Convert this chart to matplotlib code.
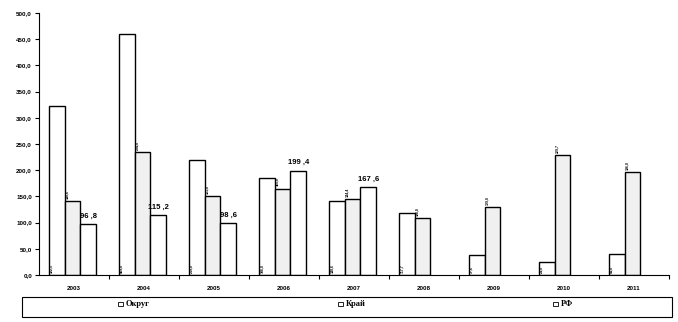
import numpy as np
import matplotlib.pyplot as plt
from matplotlib.patches import Rectangle

years = ['2003', '2004', '2005', '2006', '2007', '2008', '2009', '2010', '2011']
okrug = [322.5, 459.0, 219.0, 186.0, 140.6, 117.7, 37.6, 24.0, 41.0]
krai = [140.6, 234.0, 151.0, 165.0, 144.4, 108.0, 129.0, 229.7, 196.0]
rf = [96.8, 115.2, 98.6, 199.4, 167.6, np.nan, np.nan, np.nan, np.nan]
rf_labels = ['96 ,8', '115 ,2', '98 ,6', '199 ,4', '167 ,6', '', '', '', '']
series_names = ['Округ', 'Край', 'РФ']

plt.rcParams['font.family'] = ['Liberation Sans', 'DejaVu Sans']

fig = plt.figure(figsize=(6.78, 3.22), dpi=100)
ax = fig.add_axes([39 / 678, 1 - 275 / 322, 630 / 678, 262 / 322])

x = np.arange(len(years))
w = 0.225
shift = -0.02
ax.bar(x - w + shift, okrug, w, color='white', edgecolor='black', linewidth=1)
ax.bar(x + shift, krai, w, color='#f0f0f0', edgecolor='black', linewidth=1)
ax.bar(x + w + shift, rf, w, color='white', edgecolor='black', linewidth=1)

def fmt(v):
    return f'{v:.1f}'.replace('.', ',')

for i in range(len(years)):
    ax.text(x[i] - 1.5 * w + shift + 0.01, 4, fmt(okrug[i]), fontsize=2.5,
            rotation=90, ha='left', va='bottom', fontweight='bold')
    ax.text(x[i] - 0.5 * w + shift + 0.01, krai[i] + 4, fmt(krai[i]), fontsize=2.5,
            rotation=90, ha='left', va='bottom', fontweight='bold')
    if rf_labels[i]:
        ax.text(x[i] + w + shift, rf[i] + 8, rf_labels[i], fontsize=5.5,
                ha='center', va='bottom', fontweight='bold')

ax.set_xlim(-0.5, len(years) - 0.5)
ax.set_ylim(0, 500)
ax.set_yticks(np.arange(0, 501, 50))
ax.set_yticklabels([fmt(v) for v in np.arange(0, 501, 50)], fontsize=4.5, fontweight='bold')
ax.set_xticks(np.arange(0.5, len(years), 1.0))
ax.set_xticklabels([])
ax.set_xticks(x, minor=True)
ax.set_xticklabels(years, minor=True, fontsize=4.5, fontweight='bold')
ax.tick_params(axis='x', which='minor', length=0, pad=8)
ax.tick_params(axis='x', which='major', length=3, width=0.8)
ax.tick_params(axis='y', length=3, width=0.8, pad=2)
ax.spines['top'].set_visible(False)
ax.spines['right'].set_visible(False)
ax.spines['left'].set_linewidth(0.8)
ax.spines['bottom'].set_linewidth(0.8)

# legend box
fig.add_artist(Rectangle((22 / 678, 1 - 317 / 322), 650 / 678, 20 / 322,
                         transform=fig.transFigure, facecolor='white',
                         edgecolor='black', linewidth=0.8))
leg_x = [118, 338, 553]
for px, name in zip(leg_x, series_names):
    fig.add_artist(Rectangle((px / 678, 1 - 306 / 322), 4.5 / 678, 4.5 / 322,
                             transform=fig.transFigure, facecolor='white',
                             edgecolor='black', linewidth=0.6))
    fig.text((px + 8) / 678, 1 - 304 / 322, name, fontsize=6, fontweight='bold',
             family=['Liberation Serif', 'DejaVu Serif'], va='center', ha='left')

fig.savefig('out.png', dpi=100)
